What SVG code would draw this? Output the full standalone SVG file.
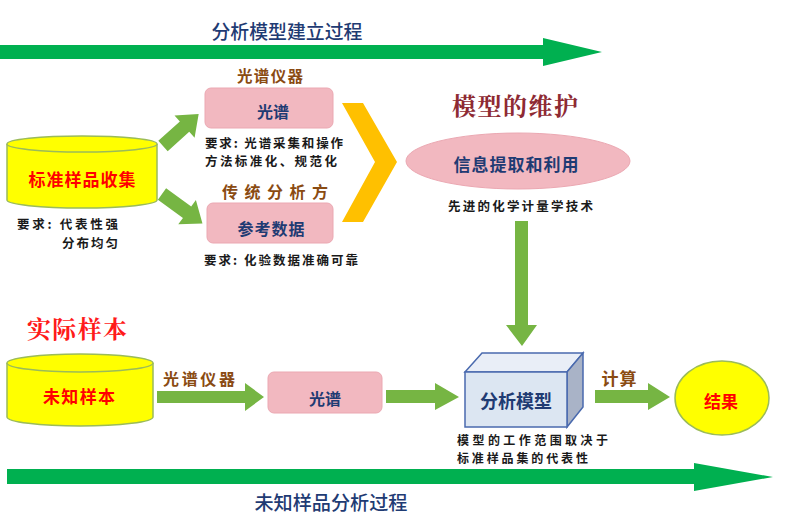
<svg xmlns="http://www.w3.org/2000/svg" width="800" height="521" viewBox="0 0 800 521">
<style>
text{font-family:"Noto Sans CJK SC","Noto Sans",sans-serif;text-anchor:middle;dominant-baseline:central}
.b{font-weight:bold}
.navy{fill:#1F3B73;font-weight:bold}
.brown{fill:#8A4B12;font-weight:bold}
.red{fill:#FF0000;font-weight:bold}
.note{fill:#1a1a1a;font-size:12.5px;font-weight:bold;text-anchor:start}
.pink{fill:#F2B8C0;stroke:#EBA8B2;stroke-width:1}
.cyl{fill:#FFFF00;stroke:#9BBB59;stroke-width:1.5}
.big{fill:#00B050}
.ga{fill:#76B543}
</style>
<rect width="800" height="521" fill="#ffffff"/>

<g id="connectors">
  <polygon class="big" points="0,45 543,45 543,38 602,52 543,66 543,59 0,59"/>
  <polygon class="big" points="7,469 694,469 694,463 773,477 694,491 694,484 7,484"/>
  <polygon class="ga" points="0,-7 29,-7 29,-15 48,0 29,15 29,7 0,7" transform="translate(163,146) rotate(-42)"/>
  <polygon class="ga" points="0,-7 31,-7 31,-15 50,0 31,15 31,7 0,7" transform="translate(162,194) rotate(36)"/>
  <polygon fill="#FFC000" points="342,103 363,103 397,162 363,222 342,222 375,162"/>
  <polygon class="ga" points="515,221 528,221 528,325 537,325 522,346 506,325 515,325"/>
  <polygon class="ga" points="157,391 245,391 245,383 264,397 245,411 245,403 157,403"/>
  <polygon class="ga" points="386,390 435,390 435,383 459,397 435,410 435,403 386,403"/>
  <polygon class="ga" points="595,390 648,390 648,383 670,397 648,410 648,403 595,403"/>
</g>

<g id="title-top"><text x="287" y="30" class="navy" style="font-weight:500" font-size="19" textLength="151" lengthAdjust="spacingAndGlyphs">分析模型建立过程</text></g>
<g id="title-bottom"><text x="331" y="501" class="navy" style="font-weight:500" font-size="19" textLength="153" lengthAdjust="spacingAndGlyphs">未知样品分析过程</text></g>

<g id="std-sample">
  <path class="cyl" d="M7,144 V200 A75,8 0 0 0 157,200 V144"/>
  <ellipse class="cyl" cx="82" cy="144" rx="75" ry="8"/>
  <text x="82" y="178" class="red" font-size="17" textLength="107">标准样品收集</text>
  <text x="17" y="223" class="note" textLength="101">要求: 代表性强</text>
  <text x="62" y="242" class="note" textLength="56">分布均匀</text>
</g>

<g id="spectrum-top">
  <text x="270" y="75" class="brown" font-size="15.5" textLength="66">光谱仪器</text>
  <rect class="pink" x="205" y="88" width="128" height="40" rx="6"/>
  <text x="273" y="111" class="navy" font-size="16">光谱</text>
  <text x="205" y="142" class="note" textLength="138">要求: 光谱采集和操作</text>
  <text x="205" y="160" class="note" textLength="132">方法标准化、规范化</text>
</g>

<g id="reference-data">
  <text x="275" y="191" class="brown" font-size="16" textLength="106">传统分析方</text>
  <rect class="pink" x="207" y="203" width="126" height="40" rx="6"/>
  <text x="271" y="228" class="navy" font-size="16" textLength="67">参考数据</text>
  <text x="204" y="259" class="note" textLength="154">要求: 化验数据准确可靠</text>
</g>

<g id="maintenance">
  <text x="515" y="104" font-size="24" font-weight="bold" fill="#8E2A33" style="font-family:'Noto Serif CJK SC','Noto Sans CJK SC',serif" textLength="126">模型的维护</text>
  <ellipse class="pink" cx="518" cy="161" rx="112" ry="28"/>
  <text x="516" y="163" class="navy" font-size="17" textLength="125">信息提取和利用</text>
  <text x="448" y="205" class="note" textLength="145">先进的化学计量学技术</text>
</g>

<g id="real-sample-label">
  <text x="77" y="327" font-size="24" font-weight="bold" fill="#FF1A1A" style="font-family:'Noto Serif CJK SC','Noto Sans CJK SC',serif" textLength="100">实际样本</text>
</g>

<g id="unknown-sample">
  <path class="cyl" d="M7,363 V417 A73,9 0 0 0 153,417 V363"/>
  <ellipse class="cyl" cx="80" cy="363" rx="73" ry="9"/>
  <text x="79" y="395" class="red" font-size="17" textLength="72">未知样本</text>
</g>

<g id="label-instrument"><text x="199" y="378" class="brown" font-size="16" textLength="72">光谱仪器</text></g>

<g id="spectrum-bottom">
  <rect class="pink" x="268" y="372" width="114" height="41" rx="6"/>
  <text x="325" y="398" class="navy" font-size="16">光谱</text>
</g>

<g id="model">
  <polygon points="465,372 482,353 583,353 567,372" fill="#E9EEF7" stroke="#4A6AAE" stroke-width="1.5"/>
  <polygon points="567,372 583,353 583,407 567,427" fill="#A9B3C7" stroke="#4A6AAE" stroke-width="1.5"/>
  <rect x="465" y="372" width="102" height="55" fill="#DCE6F2" stroke="#4A6AAE" stroke-width="1.5"/>
  <text x="516" y="400" class="navy" font-size="18" textLength="72">分析模型</text>
  <text x="457" y="439" class="note" style="font-size:12px" textLength="151">模型的工作范围取决于</text>
  <text x="457" y="457" class="note" style="font-size:12px" textLength="131">标准样品集的代表性</text>
</g>

<g id="label-calc"><text x="619" y="377" class="brown" font-size="17" textLength="35">计算</text></g>

<g id="result">
  <ellipse cx="722" cy="398" rx="47" ry="37" fill="#FFFF00" stroke="#9BBB59" stroke-width="1.5"/>
  <text x="721" y="400" class="red" font-size="17">结果</text>
</g>
</svg>
